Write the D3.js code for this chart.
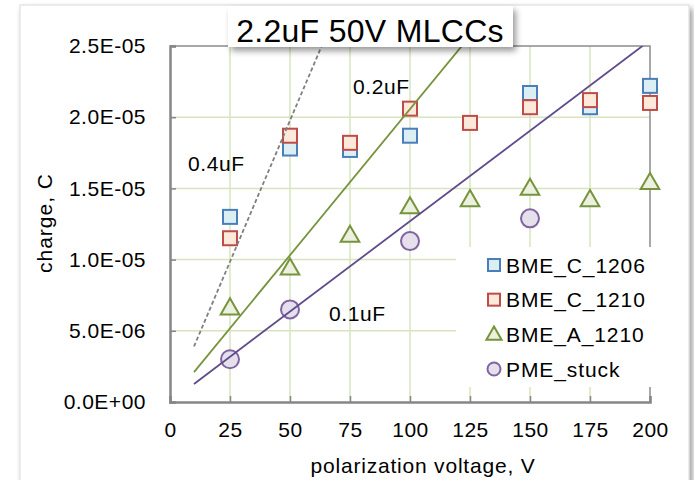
<!DOCTYPE html>
<html>
<head>
<meta charset="utf-8">
<script src="https://cdn.jsdelivr.net/npm/d3@7"></script>
<style>
  body { margin: 0; background: #fff; }
  svg text { font-family: "Liberation Sans", Arial, sans-serif; fill: #000; }
</style>
</head>
<body>
<div id="chart"></div>
<script>
// values (charge in coulombs)
const volts = [25, 50, 75, 100, 125, 150, 175, 200];
const bmeC1206 = [13.0e-6, 17.8e-6, 17.7e-6, 18.7e-6, null, 21.7e-6, 20.7e-6, 22.2e-6];
const bmeC1210 = [11.5e-6, 18.7e-6, 18.2e-6, 20.6e-6, 19.6e-6, 20.7e-6, 21.2e-6, 21.0e-6];
const bmeA1210 = [6.6e-6, 9.4e-6, 11.7e-6, 13.7e-6, 14.2e-6, 15.0e-6, 14.2e-6, 15.4e-6];
const pmeStuck = [3.0e-6, 6.5e-6, null, 11.3e-6, null, 12.9e-6, null, null];

// reference capacitance lines, end points [V, Q]
const line04uF = [[10, 3.9e-6], [70, 27.7e-6]];
const line02uF = [[10, 2.1e-6], [125, 25.7e-6]];
const line01uF = [[10, 1.27e-6], [200, 25.4e-6]];

const xTicks = [0, 25, 50, 75, 100, 125, 150, 175, 200];
const yTicks = [0, 5e-6, 10e-6, 15e-6, 20e-6, 25e-6];
const yTickLabels = ["0.0E+00", "5.0E-06", "1.0E-05", "1.5E-05", "2.0E-05", "2.5E-05"];
const seriesNames = ["BME_C_1206", "BME_C_1210", "BME_A_1210", "PME_stuck"];

const W = 694, H = 480;
const plot = { left: 170, right: 650, top: 46, bottom: 402 };

const svg = d3.select("#chart").append("svg")
  .attr("width", W).attr("height", H);

const defs = svg.append("defs");
const shadow = defs.append("filter").attr("id", "shadow")
  .attr("x", "-10%").attr("y", "-20%").attr("width", "130%").attr("height", "160%");
shadow.append("feGaussianBlur").attr("in", "SourceAlpha").attr("stdDeviation", 3);
shadow.append("feOffset").attr("dx", 3).attr("dy", 4).attr("result", "off");
shadow.append("feComponentTransfer").append("feFuncA").attr("type", "linear").attr("slope", 0.4);
const mrg = shadow.append("feMerge");
mrg.append("feMergeNode");
mrg.append("feMergeNode").attr("in", "SourceGraphic");

defs.append("clipPath").attr("id", "plotclip").append("rect")
  .attr("x", plot.left).attr("y", plot.top)
  .attr("width", plot.right - plot.left).attr("height", plot.bottom - plot.top);

// outer chart frame
svg.append("rect").attr("x", 20).attr("y", 5).attr("width", 669).attr("height", 490)
  .attr("fill", "#fff").attr("stroke", "#d9d9d9").attr("stroke-width", 1)
  .attr("filter", "url(#shadow)");

const x = d3.scaleLinear().domain([0, 200]).range([plot.left, plot.right]);
const y = d3.scaleLinear().domain([0, 2.5e-5]).range([plot.bottom, plot.top]);

// gridlines
const grid = svg.append("g");
grid.selectAll(".vg").data(xTicks.slice(1, -1)).enter().append("line")
  .attr("x1", d => x(d)).attr("x2", d => x(d))
  .attr("y1", plot.top).attr("y2", plot.bottom)
  .attr("stroke", "#d7e4bd").attr("stroke-width", 1.5);
grid.selectAll(".hg").data(yTicks.slice(1, -1)).enter().append("line")
  .attr("x1", plot.left).attr("x2", plot.right)
  .attr("y1", d => y(d)).attr("y2", d => y(d))
  .attr("stroke", "#d7e4bd").attr("stroke-width", 1.5);

// top / right border
svg.append("path")
  .attr("d", `M${plot.left},${plot.top}H${plot.right}V${plot.bottom}`)
  .attr("fill", "none").attr("stroke", "#8c8c8c").attr("stroke-width", 1.5);

// axes
const xAxis = svg.append("g").attr("transform", `translate(0,${plot.bottom})`)
  .call(d3.axisBottom(x).tickValues(xTicks).tickSize(-6).tickPadding(20));
const yAxis = svg.append("g").attr("transform", `translate(${plot.left},0)`)
  .call(d3.axisLeft(y).tickValues(yTicks).tickSize(-6).tickPadding(24)
    .tickFormat((d, i) => yTickLabels[i]));
[xAxis, yAxis].forEach(a => {
  a.select(".domain").attr("stroke", "#868686").attr("stroke-width", 2.5);
  a.selectAll(".tick line").attr("stroke", "#868686").attr("stroke-width", 1.5);
  a.selectAll(".tick text").attr("font-size", 21).style("letter-spacing", "0.5px")
    .attr("font-family", "Liberation Sans, Arial, sans-serif").attr("fill", "#000");
});
xAxis.selectAll(".tick text").attr("dy", "0.71em");

// markers
const pts = (vals) => volts.map((v, i) => ({ v, q: vals[i] })).filter(d => d.q != null);
const markers = svg.append("g");
const squareStyles = [
  { data: bmeC1206, stroke: "#4a7ebb", fill: "#dbeef4" },
  { data: bmeC1210, stroke: "#be4b48", fill: "#fde9d9" }
];
squareStyles.forEach(s => {
  markers.append("g").selectAll("rect").data(pts(s.data)).enter().append("rect")
    .attr("x", d => x(d.v) - 7).attr("y", d => y(d.q) - 7)
    .attr("width", 14).attr("height", 14)
    .attr("fill", s.fill).attr("stroke", s.stroke).attr("stroke-width", 2);
});
const tri = d3.symbol().type(d3.symbolTriangle).size(150);
markers.append("g").selectAll("path").data(pts(bmeA1210)).enter().append("path")
  .attr("d", tri).attr("transform", d => `translate(${x(d.v)},${y(d.q) + 1})`)
  .attr("fill", "#ebf1de").attr("stroke", "#77933c").attr("stroke-width", 2);
markers.append("g").selectAll("circle").data(pts(pmeStuck)).enter().append("circle")
  .attr("cx", d => x(d.v)).attr("cy", d => y(d.q)).attr("r", 9)
  .attr("fill", "#e5e0ec").attr("stroke", "#8064a2").attr("stroke-width", 2);

// capacitance lines
const lineGen = d3.line().x(d => x(d[0])).y(d => y(d[1]));
const lines = svg.append("g").attr("clip-path", "url(#plotclip)");
lines.append("path").datum(line04uF).attr("d", lineGen).attr("fill", "none")
  .attr("stroke", "#7f7f7f").attr("stroke-width", 1.8).attr("stroke-dasharray", "4,2.5");
lines.append("path").datum(line02uF).attr("d", lineGen).attr("fill", "none")
  .attr("stroke", "#77933c").attr("stroke-width", 1.8);
lines.append("path").datum(line01uF).attr("d", lineGen).attr("fill", "none")
  .attr("stroke", "#5f4a8b").attr("stroke-width", 1.8);

// line labels
const lbl = svg.append("g").attr("font-size", 21).style("letter-spacing", "0.6px");
lbl.append("text").attr("x", 188).attr("y", 171).text("0.4uF");
lbl.append("text").attr("x", 353).attr("y", 94).text("0.2uF");
lbl.append("text").attr("x", 329).attr("y", 321).text("0.1uF");

// legend
const leg = svg.append("g");
leg.append("rect").attr("x", 456).attr("y", 247).attr("width", 196).attr("height", 140)
  .attr("fill", "#fff");
const legY = d3.scalePoint().domain(seriesNames).range([265, 369]);
const legX = 494;
leg.append("rect").attr("x", legX - 6).attr("y", legY(seriesNames[0]) - 6)
  .attr("width", 12).attr("height", 12)
  .attr("fill", "#dbeef4").attr("stroke", "#4a7ebb").attr("stroke-width", 2);
leg.append("rect").attr("x", legX - 6).attr("y", legY(seriesNames[1]) - 6)
  .attr("width", 12).attr("height", 12)
  .attr("fill", "#fde9d9").attr("stroke", "#be4b48").attr("stroke-width", 2);
leg.append("path").attr("d", d3.symbol().type(d3.symbolTriangle).size(100))
  .attr("transform", `translate(${legX},${legY(seriesNames[2]) + 1})`)
  .attr("fill", "#ebf1de").attr("stroke", "#77933c").attr("stroke-width", 2);
leg.append("circle").attr("cx", legX).attr("cy", legY(seriesNames[3])).attr("r", 6.5)
  .attr("fill", "#e5e0ec").attr("stroke", "#8064a2").attr("stroke-width", 2);
leg.selectAll("text").data(seriesNames).enter().append("text")
  .attr("x", 506).attr("y", d => legY(d)).attr("dy", "0.36em")
  .attr("font-size", 21).style("letter-spacing", "0.9px").text(d => d);

// axis titles
svg.append("text").attr("x", 423).attr("y", 473).attr("text-anchor", "middle")
  .attr("font-size", 21).style("letter-spacing", "0.8px").text("polarization voltage, V");
svg.append("text").attr("transform", "translate(52,223) rotate(-90)")
  .attr("text-anchor", "middle").attr("font-size", 21).style("letter-spacing", "1px")
  .text("charge, C");

// title box
svg.append("rect").attr("x", 228).attr("y", 6).attr("width", 285).attr("height", 41)
  .attr("fill", "#fff").attr("filter", "url(#shadow)");
svg.append("text").attr("x", 370).attr("y", 42).attr("text-anchor", "middle")
  .attr("font-size", 32).style("letter-spacing", "0.3px").text("2.2uF 50V MLCCs");
</script>
</body>
</html>
